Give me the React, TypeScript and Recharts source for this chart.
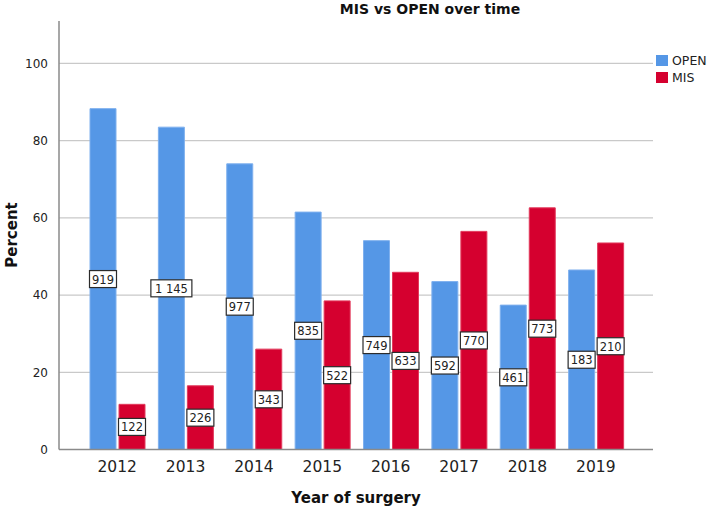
import React from "react";
import { BarChart, Bar, XAxis, YAxis, CartesianGrid, LabelList, Label } from "recharts";

const years = ["2012", "2013", "2014", "2015", "2016", "2017", "2018", "2019"];
const openPct = [88.3, 83.5, 74.0, 61.5, 54.1, 43.5, 37.4, 46.5];
const misPct = [11.7, 16.5, 26.0, 38.5, 45.9, 56.5, 62.6, 53.5];
const openN = ["919", "1 145", "977", "835", "749", "592", "461", "183"];
const misN = ["122", "226", "343", "522", "633", "770", "773", "210"];
const yTicks = [0, 20, 40, 60, 80, 100];
const seriesNames = ["OPEN", "MIS"];

const data = years.map((y, i) => ({
  year: y,
  OPEN: openPct[i],
  MIS: misPct[i],
  openN: openN[i],
  misN: misN[i],
}));

const FONT = "'DejaVu Sans', sans-serif";
const BLUE = "#5597e6";
const RED = "#d5002f";
const colors = [BLUE, RED];

const BoxLabel = (props: any) => {
  const { x, y, width, height, value } = props;
  const cx = Number(x) + Number(width) / 2;
  const cy = Number(y) + Number(height) / 2;
  const s = String(value);
  const w = s.length * 7.0 + 6;
  const h = 17;
  return (
    <g>
      <rect x={cx - w / 2} y={cy - h / 2} width={w} height={h} fill="#ffffff" stroke="#2b2b2b" strokeWidth={1.2} />
      <text x={cx} y={cy + 0.5} textAnchor="middle" dominantBaseline="central" fontFamily={FONT} fontSize={11.5} fill="#222">
        {s}
      </text>
    </g>
  );
};

export default function App() {
  return (
    <div style={{ position: "absolute", left: 0, top: 0, width: 708, height: 510, background: "#fff" }}>
      <div
        style={{
          position: "absolute",
          left: 0,
          top: 1,
          width: 860,
          textAlign: "center",
          fontFamily: FONT,
          fontWeight: "bold",
          fontSize: 14,
          color: "#111",
        }}
      >
        MIS vs OPEN over time
      </div>
      <div style={{ position: "absolute", left: 656, top: 52, fontFamily: FONT, fontSize: 12.5, color: "#222" }}>
        {seriesNames.map((n, i) => (
          <div key={n} style={{ display: "flex", alignItems: "center", height: 17 }}>
            <span style={{ display: "inline-block", width: 12, height: 11, background: colors[i], marginRight: 4 }} />
            <span>{n}</span>
          </div>
        ))}
      </div>
      <BarChart
        width={708}
        height={510}
        data={data}
        margin={{ top: 21, right: 55, bottom: 0, left: 0 }}
        barCategoryGap={7}
        barGap={3}
      >
        <CartesianGrid vertical={false} horizontalValues={[20, 40, 60, 80, 100]} stroke="#c9c9c9" strokeWidth={1.2} />
        <XAxis
          dataKey="year"
          height={60.5}
          padding={{ left: 24, right: 23 }}
          tickLine={false}
          axisLine={{ stroke: "#8a8a8a", strokeWidth: 1.5 }}
          tick={{ fontFamily: FONT, fontSize: 15.5, fill: "#222" }}
          tickMargin={5}
        >
          <Label
            content={() => (
              <text x={356} y={498} textAnchor="middle" dominantBaseline="central" fontFamily={FONT} fontWeight="bold" fontSize={15} fill="#111">
                Year of surgery
              </text>
            )}
          />
        </XAxis>
        <YAxis
          width={59}
          domain={[0, 111]}
          ticks={yTicks}
          tickLine={false}
          axisLine={{ stroke: "#8a8a8a", strokeWidth: 1.5 }}
          tick={{ fontFamily: FONT, fontSize: 12, fill: "#222" }}
          tickMargin={5}
          allowDataOverflow
        >
          <Label
            content={() => (
              <text
                x={12}
                y={235}
                textAnchor="middle"
                dominantBaseline="central"
                transform="rotate(-90 12 235)"
                fontFamily={FONT}
                fontWeight="bold"
                fontSize={15}
                fill="#111"
              >
                Percent
              </text>
            )}
          />
        </YAxis>
        <Bar dataKey="OPEN" fill={BLUE} stroke="#7fb0ee" strokeWidth={1} isAnimationActive={false}>
          <LabelList dataKey="openN" content={BoxLabel} />
        </Bar>
        <Bar dataKey="MIS" fill={RED} stroke="#e23a5c" strokeWidth={1} isAnimationActive={false}>
          <LabelList dataKey="misN" content={BoxLabel} />
        </Bar>
      </BarChart>
    </div>
  );
}
